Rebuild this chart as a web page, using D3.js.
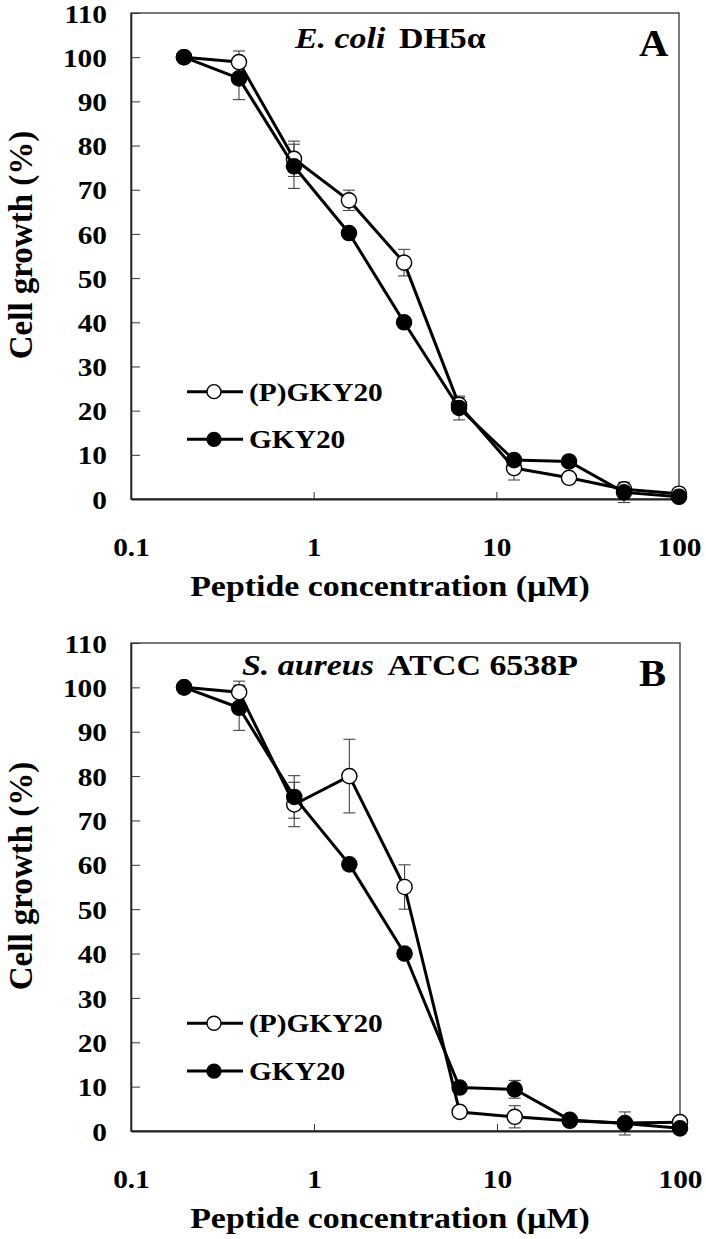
<!DOCTYPE html>
<html>
<head>
<meta charset="utf-8">
<script src="https://cdn.jsdelivr.net/npm/d3@7"></script>
</head>
<body style="margin:0;background:#fff">
<svg id="chart" width="706" height="1239" font-family="Liberation Serif" font-weight="bold"></svg>
<script>
// ---- data ----
const concentrations = [0.195, 0.39, 0.78, 1.56, 3.125, 6.25, 12.5, 25, 50, 100];
const seriesNames = ["(P)GKY20", "GKY20"];

// Panel A: E. coli DH5α
const ecoliPGKY20 = [100, 98.9, 77.0, 67.6, 53.5, 21.3, 7.0, 4.8, 2.2, 1.2];
const ecoliPGKY20Err = [0, 2.5, 4.0, 2.3, 3.0, 1.7, 2.7, 0.4, 0.5, 0.3];
const ecoliGKY20 = [100, 95.2, 75.3, 60.2, 40.0, 20.6, 8.8, 8.5, 1.5, 0.5];
const ecoliGKY20Err = [0, 4.8, 5.0, 0.5, 0.5, 2.7, 0.5, 0.5, 2.3, 0.3];

// Panel B: S. aureus ATCC 6538P
const saureusPGKY20 = [100, 98.9, 73.6, 80.0, 55.0, 4.3, 3.2, 2.3, 1.8, 2.0];
const saureusPGKY20Err = [0, 2.5, 5.0, 8.3, 5.0, 0.5, 2.5, 0.5, 0.5, 0.3];
const saureusGKY20 = [100, 95.4, 75.3, 60.1, 40.0, 9.8, 9.4, 2.5, 1.7, 0.6];
const saureusGKY20Err = [0, 5.1, 4.8, 0.5, 0.5, 0.5, 2.0, 0.5, 2.6, 0.3];

const yTicks = [0, 10, 20, 30, 40, 50, 60, 70, 80, 90, 100, 110];
const xTicks = [0.1, 1, 10, 100];
const xTickLabels = ["0.1", "1", "10", "100"];

const FONT = "Liberation Serif";
const SX = 1.13; // horizontal glyph stretch seen in the figure

const panels = [
  { italic: "E. coli", rest: "DH5α", letter: "A",
    p: ecoliPGKY20, pe: ecoliPGKY20Err, g: ecoliGKY20, ge: ecoliGKY20Err,
    top: 13, bottom: 499, left: 131, right: 679, titleX: 295, titleDy: 35 },
  { italic: "S. aureus", rest: "ATCC 6538P", letter: "B",
    p: saureusPGKY20, pe: saureusPGKY20Err, g: saureusGKY20, ge: saureusGKY20Err,
    top: 643, bottom: 1131, left: 131, right: 680, titleX: 242, titleDy: 32 }
];

const svg = d3.select("#chart");

function font(sel, size) {
  return sel.attr("font-family", FONT).attr("font-weight", "bold").attr("font-size", size);
}
function label(parent, x, y, size, anchor, text, sx) {
  return font(parent.append("text"), size)
    .attr("transform", `translate(${x},${y}) scale(${sx || SX},1)`)
    .attr("text-anchor", anchor).attr("fill", "#000").text(text);
}

panels.forEach(P => {
  const g = svg.append("g");
  const x = d3.scaleLog().domain([0.1, 100]).range([P.left, P.right]);
  const y = d3.scaleLinear().domain([0, 110]).range([P.bottom, P.top]);

  // box (top & right)
  g.append("rect")
    .attr("x", P.left).attr("y", P.top)
    .attr("width", P.right - P.left).attr("height", P.bottom - P.top)
    .attr("fill", "none").attr("stroke", "#333").attr("stroke-width", 1.3);

  // y axis
  const yAxis = d3.axisLeft(y).tickValues(yTicks).tickSize(-9).tickSizeOuter(0).tickPadding(0).tickFormat(d3.format("d"));
  const ya = g.append("g").attr("transform", `translate(${P.left},0)`).call(yAxis);
  font(ya, 26);
  ya.select(".domain").attr("stroke", "#222").attr("stroke-width", 1.6);
  ya.selectAll(".tick line").attr("stroke", "#333").attr("stroke-width", 1);
  font(ya.selectAll(".tick text"), 26)
    .attr("x", -24 / SX).attr("dy", "0.35em").attr("transform", `scale(${SX},1)`).attr("fill", "#000");

  // x axis
  const xAxis = d3.axisBottom(x).tickValues(xTicks).tickSize(-7).tickSizeOuter(0)
    .tickFormat((d, i) => xTickLabels[i]);
  const xa = g.append("g").attr("transform", `translate(0,${P.bottom})`).call(xAxis);
  font(xa, 26);
  xa.select(".domain").attr("stroke", "#222").attr("stroke-width", 2);
  xa.selectAll(".tick line").attr("stroke", "#333").attr("stroke-width", 1)
    .attr("opacity", (d) => (d === 1 || d === 10) ? 1 : 0);
  font(xa.selectAll(".tick text"), 26)
    .attr("y", 57).attr("dy", 0).attr("transform", `scale(${SX},1)`)
    .attr("x", 0).attr("fill", "#000");

  // axis titles
  font(g.append("text"), 33)
    .attr("transform", `translate(32,${(P.top + P.bottom) / 2 - 11}) rotate(-90)`)
    .attr("text-anchor", "middle").attr("fill", "#000")
    .text("Cell growth (%)");
  label(g, 390, P.bottom + 97, 30, "middle", "Peptide concentration (µM)");

  // panel title
  const t = font(g.append("text"), 30)
    .attr("transform", `translate(${P.titleX},${P.top + P.titleDy}) scale(${SX},1)`).attr("fill", "#000");
  t.append("tspan").attr("font-style", "italic").text(P.italic);
  t.append("tspan").attr("dx", 12).text(P.rest);
  label(g, 639, P.top + 43, 37, "start", P.letter, 1.1);

  const line = d3.line().x((d, i) => x(concentrations[i])).y(d => y(d));

  const series = [
    { vals: P.p, errs: P.pe, fill: "#fff" },
    { vals: P.g, errs: P.ge, fill: "#000" }
  ];

  // error bars
  series.forEach(s => {
    const eb = g.append("g").attr("stroke", "#444").attr("stroke-width", 1.1);
    s.vals.forEach((v, i) => {
      const e = s.errs[i];
      if (!e) return;
      const cx = x(concentrations[i]);
      eb.append("line").attr("x1", cx).attr("x2", cx).attr("y1", y(v - e)).attr("y2", y(v + e));
      eb.append("line").attr("x1", cx - 6).attr("x2", cx + 6).attr("y1", y(v - e)).attr("y2", y(v - e));
      eb.append("line").attr("x1", cx - 6).attr("x2", cx + 6).attr("y1", y(v + e)).attr("y2", y(v + e));
    });
  });

  // lines and markers
  series.forEach(s => {
    g.append("path").datum(s.vals).attr("d", line)
      .attr("fill", "none").attr("stroke", "#000").attr("stroke-width", 3).attr("stroke-linejoin", "round");
    g.selectAll(null).data(s.vals).enter().append("circle")
      .attr("cx", (d, i) => x(concentrations[i])).attr("cy", d => y(d))
      .attr("r", 7.6).attr("fill", s.fill).attr("stroke", "#000").attr("stroke-width", 1.4);
  });

  // legend
  const legY = [y(24.3), y(13.5)];
  seriesNames.forEach((name, k) => {
    const ly = legY[k];
    g.append("line").attr("x1", 187).attr("x2", 243).attr("y1", ly).attr("y2", ly)
      .attr("stroke", "#000").attr("stroke-width", 3);
    g.append("circle").attr("cx", 214).attr("cy", ly).attr("r", 7)
      .attr("fill", series[k].fill).attr("stroke", "#000").attr("stroke-width", 1.4);
    label(g, 249, ly + 9, 26, "start", name);
  });
});
</script>
</body>
</html>
